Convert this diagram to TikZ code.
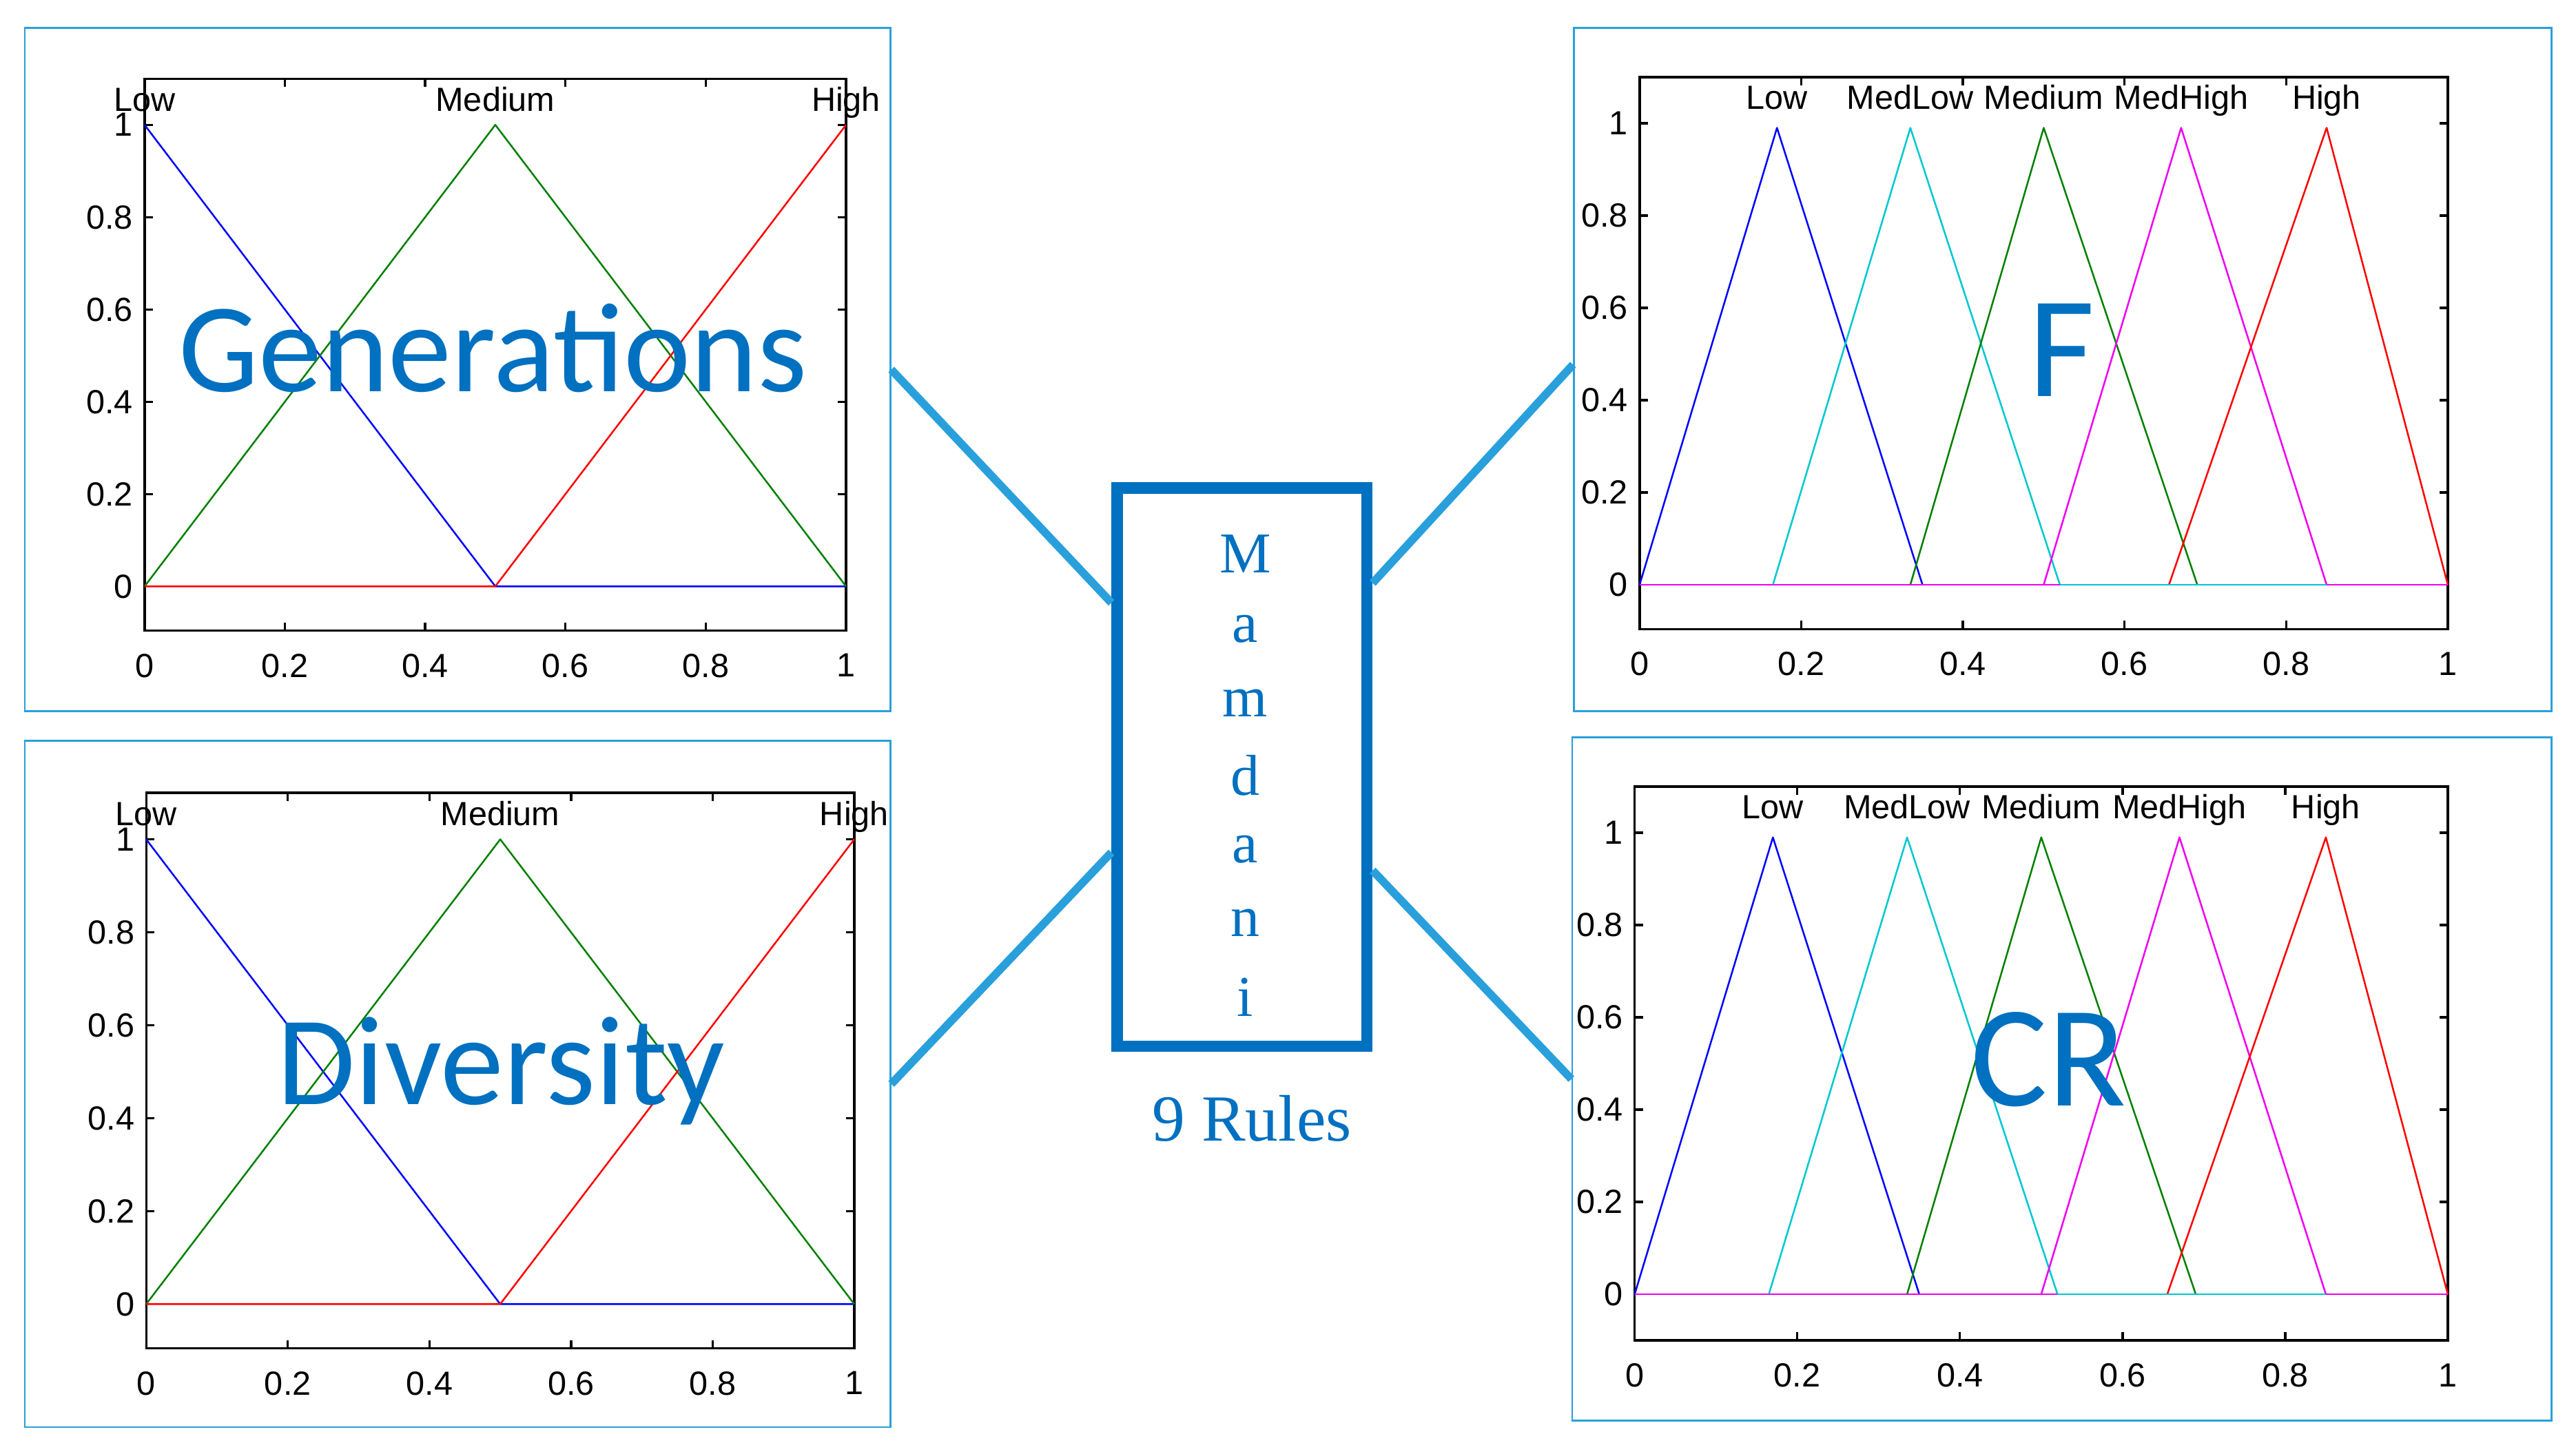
\documentclass[tikz,border=0pt]{standalone}
\usepackage{fontspec}
\setmainfont{Liberation Sans}
\newfontfamily\calib{Carlito}
\newfontfamily\tms{Liberation Serif}
\definecolor{lblue}{HTML}{29A0DB}
\definecolor{dblue}{HTML}{0070C0}
\definecolor{mgreen}{HTML}{008000}
\definecolor{mcyan}{HTML}{00C8D0}
\definecolor{mmag}{HTML}{F000F0}
\definecolor{mblue}{HTML}{0000FF}
\definecolor{mred}{HTML}{FF0000}
\tikzset{
  panelbox/.style={draw=lblue,line width=1.5pt,inner sep=0,minimum width=#1},
  conn/.style={draw=lblue,line width=7pt},
  ax/.style={line width=2pt},
  mf/.style={line width=1.5pt,line join=round},
  ticklab/.style={font=\fontsize{29}{30}\selectfont,inner sep=0},
  mflab/.style={font=\fontsize{29}{30}\selectfont,inner sep=0,anchor=base},
  big/.style={font=\calib\fontsize{110}{115}\selectfont,text=dblue,inner sep=0},
  mam/.style={font=\tms\fontsize{50}{52}\selectfont,text=dblue,inner sep=0},
}
\newcommand\mfframe[2]{% bottom, top
  \draw[ax] (0,#1) rectangle (1,#2);
  \foreach \t in {0,0.2,0.4,0.6,0.8,1}{
    \draw[ax] (\t,#1) -- ++(0,0.25cm);
    \draw[ax] (\t,#2) -- ++(0,-0.25cm);
    \node[ticklab,anchor=north] at ([yshift=-0.7cm]\t,#1) {\t};
  }
  \foreach \t in {0.2,0.4,0.6,0.8,1}{
    \draw[ax] (0,\t) -- ++(0.25cm,0);
    \draw[ax] (1,\t) -- ++(-0.25cm,0);
  }
  \foreach \t in {0,0.2,0.4,0.6,0.8,1}{
    \node[ticklab,anchor=east] at ([xshift=-0.35cm]0,\t) {\t};
  }
}
\newcommand\tricurves{%
  \draw[mf,mblue] (0,0) -- (0.17,0.99) -- (0.35,0);
  \draw[mf,mcyan] (0.165,0) -- (0.335,0.99) -- (0.52,0);
  \draw[mf,mgreen] (0.335,0) -- (0.5,0.99) -- (0.69,0);
  \draw[mf,mmag] (0.5,0) -- (0.67,0.99) -- (0.85,0);
  \draw[mf,mred] (0.655,0) -- (0.85,0.99) -- (1,0);
  \draw[mf,mmag] (0,0) -- (1,0);
  \draw[mf,mcyan] (0.52,0) -- (0.85,0);
  \node[mflab] at (0.17,1.03) {Low};
  \node[mflab] at (0.335,1.03) {MedLow};
  \node[mflab] at (0.5,1.03) {Medium};
  \node[mflab] at (0.67,1.03) {MedHigh};
  \node[mflab] at (0.85,1.03) {High};
}
\begin{document}
\begin{tikzpicture}[x=0.05cm,y=-0.05cm]
\useasboundingbox (0,0) rectangle (1568,885);
% panel boxes
\node[panelbox=26.35cm,minimum height=20.8cm] (p1) at (278.5,225) {};
\node[panelbox=26.35cm,minimum height=20.9cm] (p2) at (278.5,660) {};
\node[panelbox=29.75cm,minimum height=20.8cm] (p3) at (1255.5,225) {};
\node[panelbox=29.8cm,minimum height=20.8cm] (p4) at (1255,657) {};
% Generations
\begin{scope}[shift={(88,357)},x=21.35cm,y=14.05cm]
  \mfframe{-0.096}{1.10}
  \draw[mf,mblue] (0,1) -- (0.5,0) -- (1,0);
  \draw[mf,mgreen] (0,0) -- (0.5,1) -- (1,0);
  \draw[mf,mred] (0,0) -- (0.5,0) -- (1,1);
  \node[mflab] at (0,1.03) {Low};
  \node[mflab] at (0.5,1.03) {Medium};
  \node[mflab] at (1,1.03) {High};
\end{scope}
% Diversity
\begin{scope}[shift={(89,794)},x=21.55cm,y=14.15cm]
  \mfframe{-0.095}{1.10}
  \draw[mf,mblue] (0,1) -- (0.5,0) -- (1,0);
  \draw[mf,mgreen] (0,0) -- (0.5,1) -- (1,0);
  \draw[mf,mred] (0,0) -- (0.5,0) -- (1,1);
  \node[mflab] at (0,1.03) {Low};
  \node[mflab] at (0.5,1.03) {Medium};
  \node[mflab] at (1,1.03) {High};
\end{scope}
% F
\begin{scope}[shift={(998,356)},x=24.6cm,y=14.05cm]
  \mfframe{-0.096}{1.10}
  \tricurves
\end{scope}
% CR
\begin{scope}[shift={(995,788)},x=24.75cm,y=14.05cm]
  \mfframe{-0.10}{1.10}
  \tricurves
\end{scope}
% big labels
\node[big] (tg) at (300,212) {Generations};
\node[big] (td) at (305,652) {Diversity};
\node[big,font=\calib\fontsize{125}{125}\selectfont] (tf) at (1255,213) {F};
\node[big,font=\calib\fontsize{125}{125}\selectfont] (tc) at (1247,645) {CR};
% Mamdani
\node[draw=dblue,line width=10pt,minimum width=7.6cm,minimum height=17cm,inner sep=0] (m) at (756,467) {};
\foreach \l/\y in {M/337,a/383,m/428,d/472,a/517,n/562,i/607}{
  \node[mam] at (758,\y) {\l};
}
\node[mam,font=\tms\fontsize{57}{60}\selectfont] (rules) at (762,681) {9 Rules};
% connectors
\draw[conn] (p1.east) -- ([yshift=5cm]m.west);
\draw[conn] (p2.east) -- ([yshift=-2.6cm]m.west);
\draw[conn] ([yshift=5.6cm]m.east) -- ([yshift=0.15cm]p3.west);
\draw[conn] ([yshift=-3.15cm]m.east) -- (p4.west);
\end{tikzpicture}
\end{document}
